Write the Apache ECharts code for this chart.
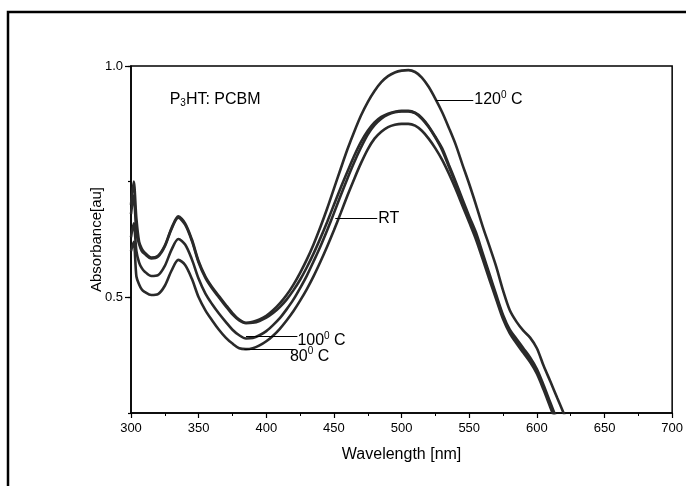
<!DOCTYPE html>
<html><head><meta charset="utf-8">
<script src="https://cdn.jsdelivr.net/npm/echarts@6/dist/echarts.min.js"></script>
<style>html,body{margin:0;padding:0;background:#fff}#c{width:686px;height:486px}</style>
</head><body><div id="c"></div>
<script>
const wavelengths = [300,302,304,306,308,310,315,320,325,330,335,340,345,350,355,360,365,370,375,380,385,390,395,400,405,410,415,420,425,430,435,440,445,450,455,460,465,470,475,480,485,490,495,500,505,510,515,520,525,530,535,540,545,550,555,560,565,570,575,580,585,590,595,600,605,610,615,620,625];
const abs120 = [0.70,0.75,0.67,0.62,0.605,0.597,0.586,0.59,0.612,0.65,0.675,0.66,0.625,0.578,0.545,0.522,0.503,0.484,0.466,0.452,0.445,0.447,0.452,0.46,0.472,0.487,0.505,0.527,0.553,0.582,0.615,0.652,0.692,0.735,0.778,0.82,0.858,0.893,0.922,0.946,0.965,0.978,0.986,0.99,0.991,0.987,0.975,0.955,0.929,0.9,0.866,0.83,0.787,0.745,0.70,0.653,0.61,0.566,0.515,0.472,0.447,0.428,0.413,0.39,0.352,0.318,0.283,0.248,0.21];
const absRT = [0.68,0.72,0.64,0.615,0.60,0.594,0.584,0.588,0.61,0.648,0.672,0.657,0.622,0.575,0.542,0.519,0.50,0.481,0.463,0.45,0.444,0.445,0.449,0.456,0.466,0.479,0.495,0.515,0.538,0.565,0.595,0.628,0.663,0.70,0.737,0.772,0.806,0.836,0.86,0.878,0.89,0.897,0.901,0.903,0.903,0.899,0.888,0.87,0.847,0.822,0.786,0.75,0.712,0.675,0.64,0.595,0.55,0.505,0.462,0.43,0.41,0.39,0.37,0.345,0.31,0.272,0.235,0.20,0.165];
const abs100 = [0.63,0.66,0.60,0.575,0.563,0.556,0.546,0.548,0.568,0.603,0.626,0.614,0.582,0.54,0.508,0.485,0.465,0.447,0.43,0.418,0.411,0.412,0.418,0.427,0.44,0.455,0.474,0.495,0.52,0.547,0.578,0.61,0.645,0.682,0.72,0.757,0.792,0.824,0.852,0.872,0.886,0.895,0.90,0.902,0.902,0.898,0.886,0.868,0.845,0.818,0.782,0.746,0.708,0.67,0.634,0.59,0.545,0.50,0.458,0.426,0.405,0.386,0.365,0.34,0.305,0.268,0.23,0.195,0.16];
const abs80 = [0.60,0.62,0.545,0.528,0.517,0.512,0.505,0.507,0.525,0.558,0.581,0.57,0.54,0.50,0.472,0.45,0.43,0.413,0.40,0.39,0.388,0.39,0.396,0.405,0.417,0.432,0.45,0.47,0.493,0.518,0.546,0.577,0.61,0.645,0.682,0.72,0.756,0.79,0.82,0.843,0.858,0.868,0.873,0.875,0.875,0.871,0.86,0.843,0.822,0.797,0.767,0.734,0.698,0.662,0.625,0.582,0.538,0.495,0.453,0.422,0.40,0.38,0.36,0.335,0.30,0.262,0.225,0.19,0.155];
const seriesNames = ['120° C','RT','100° C','80° C'];
const yTickLabels = {0.5:'0.5', 1:'1.0'};

const chart = echarts.init(document.getElementById('c'), null, {renderer:'canvas'});
const FONT = 'Liberation Sans, Arial, sans-serif';
function mk(name, vals){
  return {name, type:'line', data: wavelengths.map((w,i)=>[w, vals[i]]), smooth:0.3, showSymbol:false, symbol:'none',
    lineStyle:{color:'#2a2a2a', width:2.6}, clip:true, animation:false};
}
const series = [mk(seriesNames[0],abs120), mk(seriesNames[1],absRT), mk(seriesNames[2],abs100), mk(seriesNames[3],abs80)];
const leaders = [
  [[525.3,0.927],[553,0.927]],
  [[451,0.670],[482,0.670]],
  [[385,0.415],[423,0.415]],
  [[383.7,0.388],[421.5,0.388]]
];
series.push({type:'line', data:[], markLine:{silent:true, symbol:'none', animation:false,
  lineStyle:{color:'#000', width:1, type:'solid'}, label:{show:false},
  data: leaders.map(l=>[{coord:l[0]},{coord:l[1]}])}});

chart.setOption({
  animation:false,
  backgroundColor:'#fff',
  grid:{left:131, right:10, top:66, bottom:73, show:true, borderColor:'#000', borderWidth:1.5, backgroundColor:'transparent'},
  xAxis:{type:'value', min:300, max:700, interval:50, name:'Wavelength [nm]', nameLocation:'middle', nameGap:34,
    nameTextStyle:{fontFamily:FONT, fontSize:16, color:'#000'},
    axisLine:{lineStyle:{color:'#000', width:1.5}}, axisTick:{length:5, lineStyle:{color:'#000', width:1.2}},
    minorTick:{show:true, splitNumber:2, length:3, lineStyle:{color:'#000', width:1}},
    axisLabel:{fontFamily:FONT, fontSize:13, color:'#000', margin:9}, splitLine:{show:false}},
  yAxis:[{type:'value', min:0.25, max:1.0, interval:0.25, name:'Absorbance[au]', nameLocation:'middle', nameGap:27, nameMoveOverlap:false,
    nameTextStyle:{fontFamily:FONT, fontSize:15, color:'#000'},
    axisLine:{lineStyle:{color:'#000', width:1.5}}, axisTick:{length:3, lineStyle:{color:'#000', width:1.2}},
    axisLabel:{fontFamily:FONT, fontSize:13, color:'#000', margin:8, formatter:v=>yTickLabels[v]||''}, splitLine:{show:false}},
   {type:'value', min:0.25, max:1.0, interval:0.25, position:'left', offset:0,
    axisLine:{show:false}, axisTick:{show:true, length:6, customValues:[0.5,1.0], lineStyle:{color:'#000', width:1.2}},
    axisLabel:{show:false}, splitLine:{show:false}}],
  series
});

const lbl = (x,y,parts,dx,dy)=>{
  const p = chart.convertToPixel({gridIndex:0},[x,y]);
  return {type:'text', x:p[0]+dx, y:p[1]+dy, style:{rich:{n:{fontFamily:FONT,fontSize:16,fill:'#000'}, s:{fontFamily:FONT,fontSize:10,fill:'#000', padding:[0,0,9,0]}, b:{fontFamily:FONT,fontSize:10,fill:'#000', padding:[8,0,0,0]}}, text:parts, verticalAlign:'middle', fill:'#000'}};
};
chart.setOption({graphic:[
  {type:'rect', shape:{x:8, y:12, width:720, height:520}, style:{fill:'none', stroke:'#000', lineWidth:2.5}},
  lbl(553,0.927,'{n|120}{s|0}{n| C}',1,0),
  lbl(482,0.670,'{n|RT}',1,0),
  lbl(423,0.415,'{n|100}{s|0}{n| C}',0,4),
  lbl(417.5,0.388,'{n|80}{s|0}{n| C}',0,7),
  lbl(328.6,0.928,'{n|P}{b|3}{n|HT: PCBM}',0,0)
]});
</script></body></html>
